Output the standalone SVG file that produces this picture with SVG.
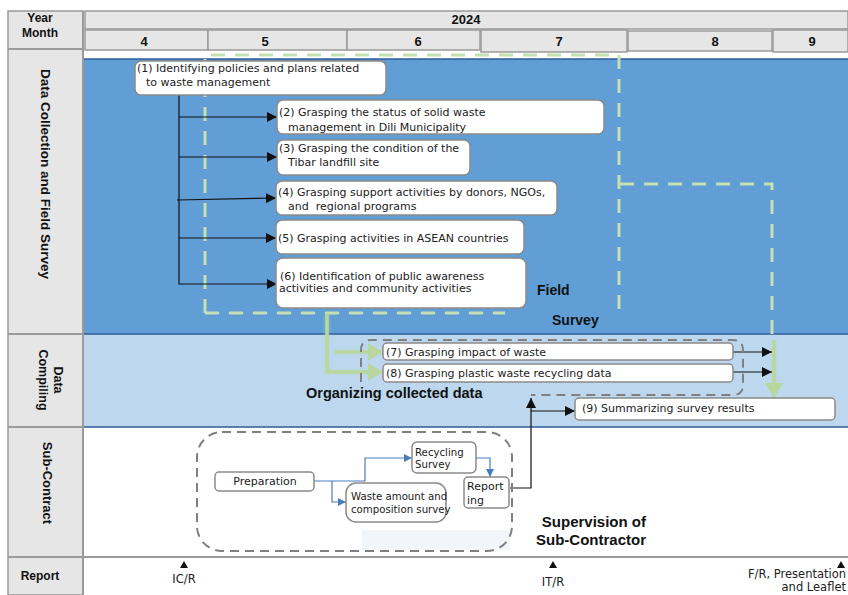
<svg xmlns="http://www.w3.org/2000/svg" width="848" height="595" viewBox="0 0 848 595">
<defs>
<style>
.hdr{fill:#e6e6e6;stroke:#9a9a9a;stroke-width:1.5}
.t{font-family:"DejaVu Sans",Verdana,sans-serif;font-size:11px;fill:#222}
.s{font-size:10.2px}
.L{font-family:"Liberation Sans",Arial,sans-serif;font-weight:bold;fill:#111}
.box{fill:#fff;stroke:#8a8a8a;stroke-width:1.5}
.conn{stroke:#111;stroke-width:1.2;fill:none}
.gd{stroke:#c5e0b4;stroke-width:3;fill:none;stroke-dasharray:14 10}
.gs{stroke:#b7d79e;stroke-width:3.5;fill:none}
.grd{stroke:#808080;stroke-width:2;fill:none;stroke-dasharray:9 6}
.blu{stroke:#4a7ebb;stroke-width:1.2;fill:none}
.sep{stroke:#2e5b9a;stroke-width:1.5}
</style>
<marker id="ab" markerUnits="userSpaceOnUse" markerWidth="12" markerHeight="10" refX="10" refY="5" orient="auto"><path d="M0,0 L10,5 L0,10 Z" fill="#111"/></marker>
<marker id="ag" markerUnits="userSpaceOnUse" markerWidth="16" markerHeight="18" refX="15" refY="9" orient="auto"><path d="M0,0 L15,9 L0,18 Z" fill="#b7d79e"/></marker>
<marker id="abl" markerUnits="userSpaceOnUse" markerWidth="10" markerHeight="10" refX="8" refY="4" orient="auto"><path d="M0,0 L8,4 L0,8 Z" fill="#4a7ebb"/></marker>
<filter id="sh" x="-20%" y="-20%" width="140%" height="140%"><feGaussianBlur stdDeviation="1.5"/></filter>
</defs>
<rect width="848" height="595" fill="#fff"/>

<g id="grid">
<rect x="8" y="11" width="75" height="584" class="hdr"/>
<rect x="85" y="11" width="763" height="18" class="hdr"/>
<rect x="85" y="30" width="123" height="20" class="hdr"/>
<rect x="208" y="30" width="139" height="20" class="hdr"/>
<rect x="347" y="30" width="133" height="20" class="hdr"/>
<rect x="481" y="30" width="146" height="22" class="hdr"/>
<rect x="628" y="31" width="144" height="20" class="hdr"/>
<rect x="773" y="30" width="75" height="22" class="hdr"/>
<rect x="84" y="59" width="764" height="275" fill="#619ed5"/>
<rect x="84" y="334" width="764" height="93" fill="#bcd7ee"/>
<line x1="84" y1="59" x2="848" y2="59" class="sep"/>
<line x1="84" y1="334" x2="848" y2="334" class="sep"/>
<line x1="84" y1="427" x2="848" y2="427" class="sep"/>
<line x1="8" y1="49" x2="83" y2="49" stroke="#9a9a9a" stroke-width="2"/>
<line x1="8" y1="334" x2="83" y2="334" stroke="#9a9a9a" stroke-width="2"/>
<line x1="8" y1="427" x2="83" y2="427" stroke="#9a9a9a" stroke-width="2"/>
<line x1="8" y1="557" x2="848" y2="557" stroke="#9a9a9a" stroke-width="2"/>
<line x1="83" y1="11" x2="83" y2="595" stroke="#9a9a9a" stroke-width="2"/>
<text class="L" x="40" y="22" text-anchor="middle" style="font-size:12px">Year</text>
<text class="L" x="40" y="37" text-anchor="middle" style="font-size:12px">Month</text>
<text class="L" x="466" y="24" text-anchor="middle" style="font-size:13px">2024</text>
<text class="L" x="144" y="46" text-anchor="middle" style="font-size:13px">4</text>
<text class="L" x="265" y="46" text-anchor="middle" style="font-size:13px">5</text>
<text class="L" x="418" y="46" text-anchor="middle" style="font-size:13px">6</text>
<text class="L" x="559" y="46" text-anchor="middle" style="font-size:13px">7</text>
<text class="L" x="715" y="46" text-anchor="middle" style="font-size:13px">8</text>
<text class="L" x="812" y="46" text-anchor="middle" style="font-size:13px">9</text>
<text class="L" transform="translate(41,174) rotate(90)" text-anchor="middle" style="font-size:13.5px">Data Collection and Field Survey</text>
<text class="L" transform="translate(54,380) rotate(90)" text-anchor="middle" style="font-size:12.5px">Data</text>
<text class="L" transform="translate(39,380) rotate(90)" text-anchor="middle" style="font-size:12.5px">Compiling</text>
<text class="L" transform="translate(43,483) rotate(90)" text-anchor="middle" style="font-size:13px">Sub-Contract</text>
<text class="L" x="40" y="580" text-anchor="middle" style="font-size:12px">Report</text>
</g>

<g id="connectors">
<path class="gd" d="M205,313 V55 H619 V313"/>
<path class="gd" d="M205,313 H505"/>
<path class="gd" d="M620,184 H772 V336"/>
<g filter="url(#sh)" opacity="0.6"><path class="gs" d="M327,313 V372 H370 M335,352 H370 M774,340 V385"/></g>
<path class="gs" d="M327,313 V372 H383" marker-end="url(#ag)"/>
<path class="gs" d="M335,352 H383" marker-end="url(#ag)"/>
<path class="gs" d="M774,340 V398" marker-end="url(#ag)"/>
<path class="conn" d="M179,95 V284 H277" marker-end="url(#ab)"/>
<path class="conn" d="M179,117 H277" marker-end="url(#ab)"/>
<path class="conn" d="M179,157 H277" marker-end="url(#ab)"/>
<path class="conn" d="M177,200 L276,198" marker-end="url(#ab)"/>
<path class="conn" d="M179,238 H276" marker-end="url(#ab)"/>
<path class="conn" d="M733,352 H772" marker-end="url(#ab)"/>
<path class="conn" d="M733,372 H772" marker-end="url(#ab)"/>
<path class="conn" d="M510,488 H531 V398" marker-end="url(#ab)"/>
<path class="conn" d="M531,411 H575" marker-end="url(#ab)"/>
<path class="blu" d="M314,481 H365 V458 H412" marker-end="url(#abl)"/>
<path class="blu" d="M332,481 V502 H346" marker-end="url(#abl)"/>
<path class="blu" d="M476,458 H490 V477" marker-end="url(#abl)"/>
</g>

<g id="n1"><rect x="135" y="61" width="251" height="34" rx="6" class="box"/>
<text class="t" x="137" y="72">(1) Identifying policies and plans related</text>
<text class="t" x="146" y="86">to waste management</text></g>
<g id="n2"><rect x="277" y="100" width="327" height="34" rx="6" class="box"/>
<text class="t" x="279" y="116">(2) Grasping the status of solid waste</text>
<text class="t" x="288" y="131">management in Dili Municipality</text></g>
<g id="n3"><rect x="277" y="140" width="193" height="35" rx="6" class="box"/>
<text class="t" x="279" y="152">(3) Grasping the condition of the</text>
<text class="t" x="288" y="166">Tibar landfill site</text></g>
<g id="n4"><rect x="276" y="181" width="281" height="34" rx="6" class="box"/>
<text class="t" x="278" y="196">(4) Grasping support activities by donors, NGOs,</text>
<text class="t" x="288" y="210" xml:space="preserve">and  regional programs</text></g>
<g id="n5"><rect x="276" y="220" width="248" height="34" rx="6" class="box"/>
<text class="t" x="278" y="242">(5) Grasping activities in ASEAN countries</text></g>
<g id="n6"><rect x="276" y="258" width="250" height="50" rx="7" class="box"/>
<text class="t" x="280" y="280">(6) Identification of public awareness</text>
<text class="t" x="279" y="292">activities and community activities</text></g>
<g id="fieldsurvey">
<text class="L" x="537" y="295" style="font-size:14px">Field</text>
<text class="L" x="552" y="325" style="font-size:14px">Survey</text></g>

<g id="organizing">
<path class="grd" d="M361,382 V350 Q361,340 371,340 H733 Q743,340 743,350 V385 Q743,395 733,395 H531"/>
<text class="L" x="306" y="398" style="font-size:14.5px">Organizing collected data</text></g>
<g id="n7"><rect x="383" y="343" width="350" height="17" rx="4" class="box"/>
<text class="t" x="386" y="356">(7) Grasping impact of waste</text></g>
<g id="n8"><rect x="383" y="364" width="350" height="18" rx="4" class="box"/>
<text class="t" x="386" y="377">(8) Grasping plastic waste recycling data</text></g>
<g id="n9"><rect x="575" y="398" width="260" height="22" rx="4" class="box"/>
<text class="t" x="582" y="412">(9) Summarizing survey results</text></g>

<g id="subcontract">
<rect x="362" y="530" width="148" height="20" fill="#f2f6fb"/>
<rect x="197" y="432" width="315" height="119" rx="25" class="grd"/>
<text class="L" x="646" y="527" text-anchor="end" style="font-size:15px">Supervision of</text>
<text class="L" x="646" y="545" text-anchor="end" style="font-size:15px">Sub-Contractor</text></g>
<g id="prep"><rect x="215" y="472" width="99" height="19" rx="4" class="box"/>
<text class="t" x="265" y="485" text-anchor="middle">Preparation</text></g>
<g id="recycling"><rect x="412" y="442" width="64" height="31" rx="5" class="box"/>
<text class="t s" x="415" y="456">Recycling</text>
<text class="t s" x="415" y="468">Survey</text></g>
<g id="reporting"><rect x="464" y="477" width="45" height="31" rx="4" class="box"/>
<text class="t" x="467" y="490">Report</text>
<text class="t" x="467" y="504">ing</text></g>
<g id="waste"><rect x="346" y="483" width="100" height="39" rx="10" class="box"/>
<text class="t s" x="351" y="500">Waste amount and</text>
<text class="t s" x="351" y="513">composition survey</text></g>

<g id="reports">
<path d="M180,568 L184,561 L188,568 Z" fill="#111"/>
<text class="t" x="184" y="583" text-anchor="middle" style="font-size:11.5px">IC/R</text>
<path d="M549,568 L553,561 L557,568 Z" fill="#111"/>
<text class="t" x="553" y="586" text-anchor="middle" style="font-size:11.5px">IT/R</text>
<path d="M837,568 L841,561 L845,568 Z" fill="#111"/>
<text class="t" x="846" y="578" text-anchor="end" style="font-size:11.5px">F/R, Presentation</text>
<text class="t" x="846" y="591" text-anchor="end" style="font-size:11.5px">and Leaflet</text></g>
</svg>
